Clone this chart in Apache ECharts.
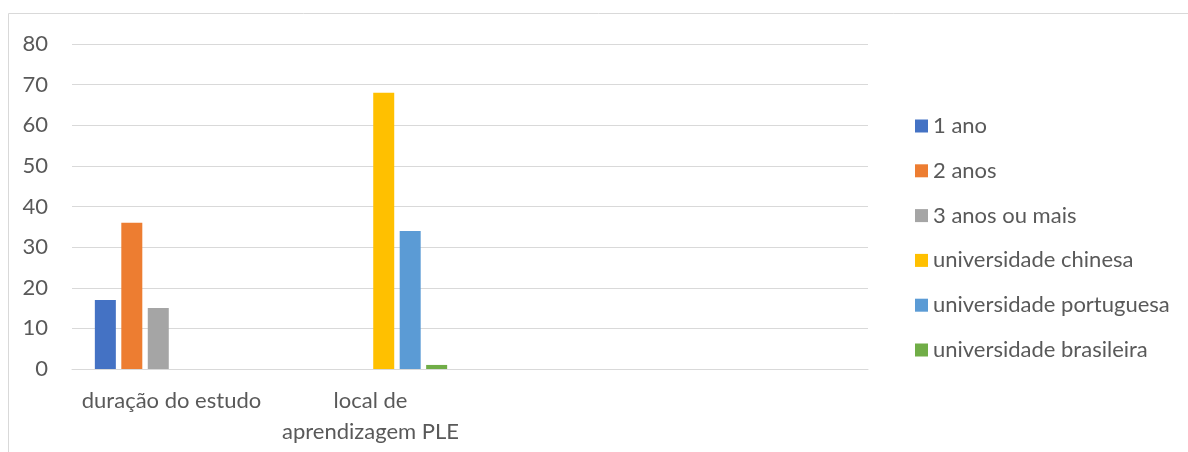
<!DOCTYPE html>
<html>
<head>
<meta charset="utf-8">
<script src="https://cdn.jsdelivr.net/npm/echarts@6/dist/echarts.min.js"></script>
<style>
  html, body { margin: 0; padding: 0; background: #fff; }
  #chart { width: 1188px; height: 452px; }
</style>
</head>
<body>
<div id="chart"></div>
<script>
// Categories on the x axis (the last two slots are left blank)
const categories = ['duração do estudo', 'local de\naprendizagem PLE', '', ''];

// Series names and values per category
const seriesNames = ['1 ano', '2 anos', '3 anos ou mais', 'universidade chinesa', 'universidade portuguesa', 'universidade brasileira'];
const ano1 = [17, null, null, null];
const anos2 = [36, null, null, null];
const anos3 = [15, null, null, null];
const uniChinesa = [null, 68, null, null];
const uniPortuguesa = [null, 34, null, null];
const uniBrasileira = [null, 1, null, null];
const seriesValues = [ano1, anos2, anos3, uniChinesa, uniPortuguesa, uniBrasileira];

const colors = ['#4472C4', '#ED7D31', '#A5A5A5', '#FFC000', '#5B9BD5', '#70AD47'];
const fontFamily = 'Lato, "Open Sans", sans-serif';
const textColor = '#595959';
const fontSize = 22;

const chart = echarts.init(document.getElementById('chart'), null, { renderer: 'canvas' });

chart.setOption({
  animation: false,
  color: colors,
  textStyle: { fontFamily: fontFamily, color: textColor },
  graphic: [{
    type: 'rect',
    shape: { x: 8.5, y: 13.5, width: 1200, height: 460 },
    style: { fill: 'none', stroke: '#d9d9d9', lineWidth: 1 },
    silent: true
  }],
  grid: { left: 72, right: 320, top: 44, bottom: 83, containLabel: false },
  legend: {
    orient: 'vertical',
    left: 910,
    top: 110,
    itemWidth: 13,
    itemHeight: 13,
    itemGap: 22.8,
    icon: 'rect',
    textStyle: { fontFamily: fontFamily, fontSize: fontSize, lineHeight: 22, color: textColor },
    data: seriesNames
  },
  xAxis: {
    type: 'category',
    data: categories,
    axisLine: { show: true, lineStyle: { color: '#d9d9d9', width: 1 } },
    axisTick: { show: false },
    axisLabel: {
      interval: 0,
      margin: 16,
      fontSize: fontSize,
      lineHeight: 31,
      color: textColor,
      fontFamily: fontFamily
    }
  },
  yAxis: {
    type: 'value',
    min: 0,
    max: 80,
    interval: 10,
    axisLine: { show: false },
    axisTick: { show: false },
    splitLine: { show: true, lineStyle: { color: '#d9d9d9', width: 1 } },
    axisLabel: { margin: 24, fontSize: fontSize, color: textColor, fontFamily: fontFamily }
  },
  series: seriesNames.map((name, i) => ({
    name: name,
    type: 'bar',
    data: seriesValues[i],
    barWidth: 21,
    barGap: '26%'
  }))
});
</script>
</body>
</html>
